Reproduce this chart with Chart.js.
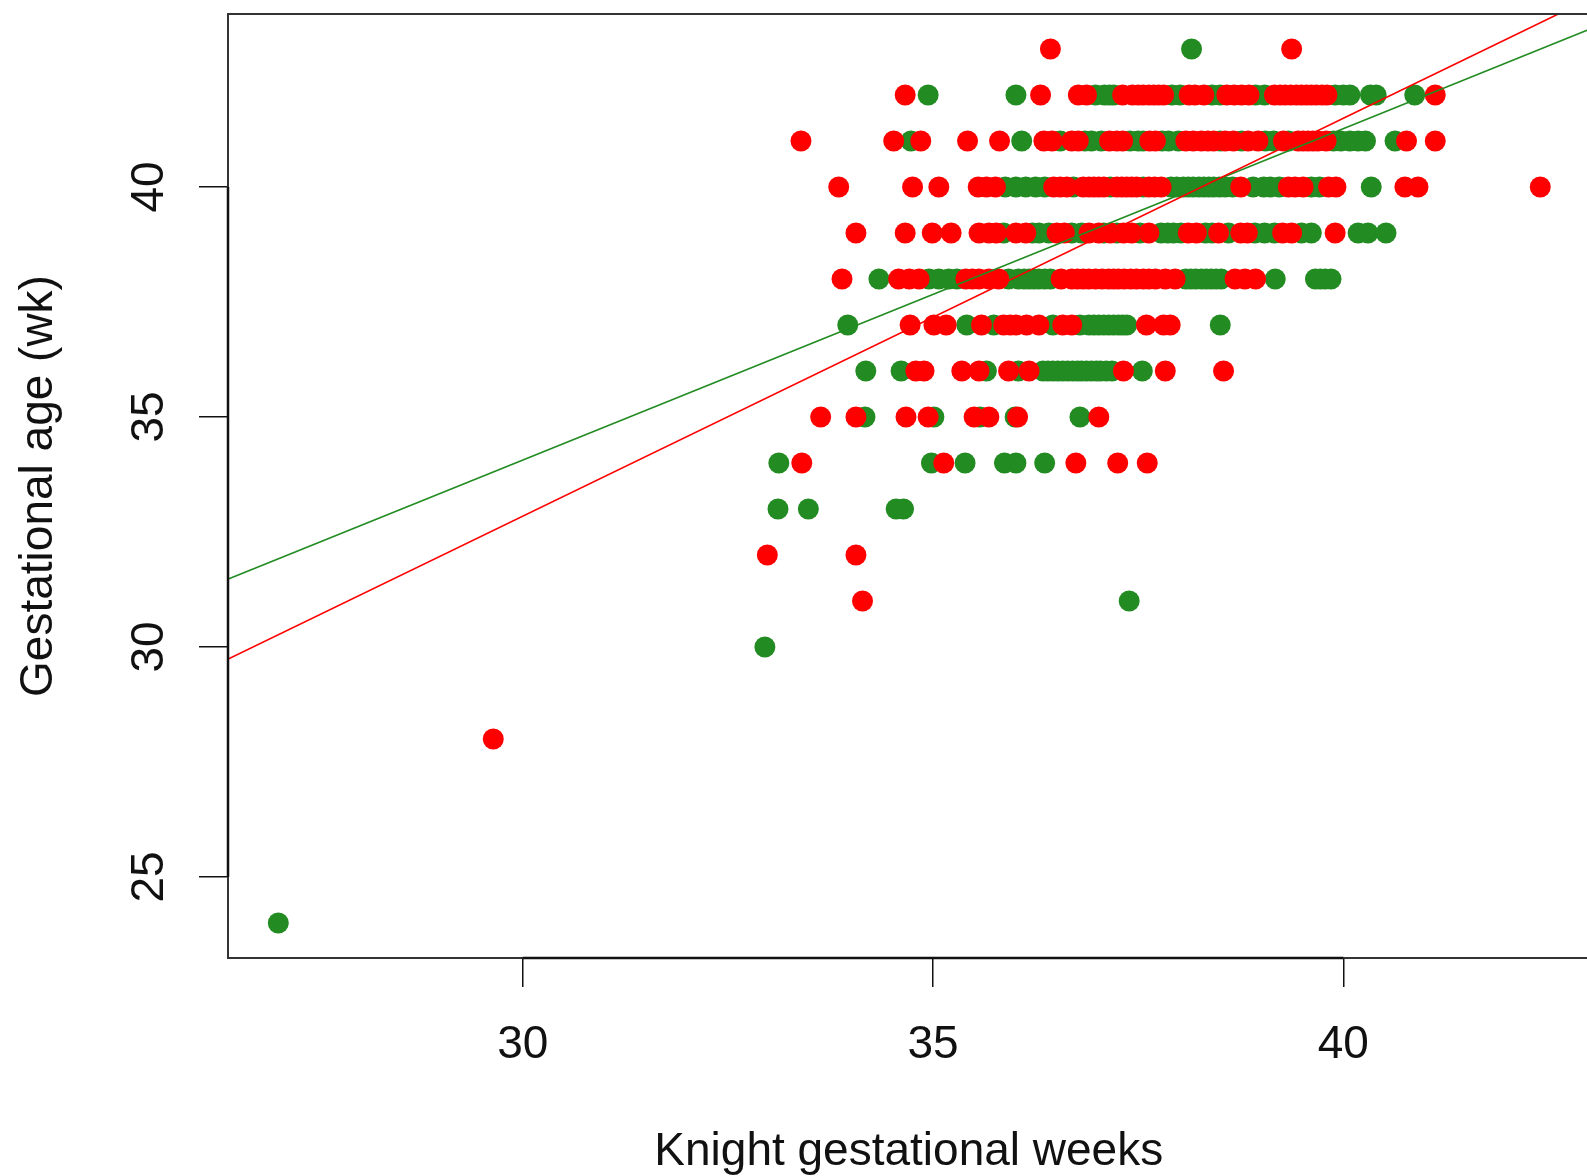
<!DOCTYPE html>
<html>
<head>
<meta charset="utf-8">
<script src="https://cdn.jsdelivr.net/npm/chart.js@4.4.1/dist/chart.umd.min.js"></script>
<style>
  html, body { margin: 0; padding: 0; background: #fff; overflow: hidden; }
  #wrap { position: absolute; left: 0; top: 0; width: 1600px; height: 1176px; }
</style>
</head>
<body>
<div id="wrap"><canvas id="c" width="1600" height="1176"></canvas></div>
<script>
// ---- data ----
const xTicks = [30, 35, 40];
const yTicks = [25, 30, 35, 40];
const xTitle = "Knight gestational weeks";
const yTitle = "Gestational age (wk)";

// Gestational age rows (weeks) and Knight weeks of points in each row
const rowWeeks = [43, 42, 41, 40, 39, 38, 37, 36, 35, 34, 33, 32, 31, 30, 28, 24];

const redRows = [
  [36.43, 39.37],
  [34.66, 36.31, 36.77, 36.87, 37.31, 37.43, 37.50, 37.56, 37.63, 37.69, 37.75, 37.81, 38.12, 38.19, 38.30, 38.58, 38.67, 38.76, 38.85, 39.16, 39.23, 39.29, 39.36, 39.43, 39.49, 39.55, 39.61, 39.67, 39.74, 39.80, 41.12],
  [33.39, 34.52, 34.85, 35.42, 35.81, 36.35, 36.45, 36.69, 36.77, 37.15, 37.24, 37.31, 37.64, 37.71, 38.08, 38.17, 38.27, 38.35, 38.42, 38.56, 38.66, 38.84, 38.96, 39.27, 39.45, 39.51, 39.57, 39.63, 39.69, 39.79, 40.77, 41.12],
  [33.85, 34.75, 35.07, 35.55, 35.65, 35.76, 36.47, 36.55, 36.63, 36.83, 36.90, 36.96, 37.02, 37.08, 37.24, 37.30, 37.36, 37.42, 37.48, 37.63, 37.70, 37.78, 38.75, 39.33, 39.41, 39.51, 39.82, 39.91, 40.75, 40.91, 42.40],
  [34.06, 34.66, 34.99, 35.22, 35.56, 35.68, 35.77, 36.01, 36.13, 36.51, 36.60, 36.90, 37.02, 37.16, 37.32, 37.42, 37.63, 38.11, 38.21, 38.48, 38.75, 38.83, 39.26, 39.37, 39.90],
  [33.89, 34.58, 34.71, 34.83, 35.40, 35.48, 35.56, 35.68, 35.80, 36.56, 36.69, 36.76, 36.83, 36.90, 36.98, 37.06, 37.14, 37.20, 37.26, 37.33, 37.41, 37.48, 37.56, 37.63, 37.71, 37.83, 37.95, 38.68, 38.80, 38.93],
  [34.72, 35.01, 35.16, 35.59, 35.86, 35.94, 36.01, 36.14, 36.29, 36.58, 36.69, 37.60, 37.81, 37.89],
  [34.79, 34.89, 35.35, 35.56, 35.92, 36.17, 37.32, 37.83, 38.54],
  [33.63, 34.06, 34.67, 34.94, 35.50, 35.68, 36.03, 37.02],
  [33.40, 35.13, 36.74, 37.25, 37.61],
  [],
  [32.98, 34.06],
  [34.14],
  [],
  [29.64],
  []
];

const greenRows = [
  [38.15],
  [34.94, 36.01, 36.98, 37.09, 37.15, 37.20, 37.91, 38.01, 38.40, 38.50, 38.93, 39.04, 39.90, 40.00, 40.08, 40.33, 40.40, 40.87],
  [34.73, 36.08, 36.55, 36.85, 36.93, 37.05, 37.40, 37.50, 37.56, 37.79, 37.87, 37.99, 38.50, 38.76, 39.05, 39.15, 39.33, 39.88, 39.97, 40.08, 40.18, 40.27, 40.63],
  [35.88, 36.01, 36.13, 36.25, 36.36, 36.71, 37.16, 37.56, 37.90, 37.97, 38.05, 38.11, 38.17, 38.24, 38.30, 38.36, 38.42, 38.49, 38.56, 38.65, 38.90, 39.03, 39.11, 39.22, 39.61, 39.71, 40.34],
  [35.86, 36.21, 36.29, 36.41, 36.69, 36.81, 37.08, 37.24, 37.52, 37.78, 37.86, 37.93, 38.02, 38.32, 38.40, 38.60, 38.92, 39.04, 39.16, 39.49, 39.61, 40.18, 40.30, 40.52],
  [34.34, 34.95, 35.07, 35.19, 35.29, 35.92, 36.04, 36.11, 36.17, 36.23, 36.29, 36.36, 36.43, 38.08, 38.14, 38.20, 38.27, 38.33, 38.39, 38.45, 38.51, 39.17, 39.66, 39.72, 39.78, 39.85],
  [33.96, 35.41, 35.74, 36.46, 36.79, 36.90, 36.96, 37.02, 37.08, 37.14, 37.20, 37.26, 37.31, 37.36, 38.50],
  [34.18, 34.61, 35.65, 36.04, 36.34, 36.40, 36.46, 36.52, 36.58, 36.64, 36.70, 36.76, 36.81, 36.87, 36.93, 36.99, 37.04, 37.11, 37.18, 37.55],
  [34.17, 35.01, 35.57, 36.00, 36.79],
  [33.12, 34.98, 35.39, 35.87, 36.01, 36.36],
  [33.11, 33.48, 34.55, 34.64],
  [],
  [37.39],
  [32.95],
  [],
  [27.02]
];

// fitted lines (end points)
const redLineX = [26.40, 42.62];
const redLineY = [29.73, 43.76];
const greenLineX = [26.40, 43.00];
const greenLineY = [31.47, 43.43];

const xRange = [26.407, 43.00];
const yRange = [23.24, 43.76];

const RED = '#FF0000';
const GREEN = '#228B22';

// ---- build datasets ----
function rowsToPoints(rows) {
  const pts = [];
  rows.forEach((xs, i) => xs.forEach(v => pts.push({ x: v, y: rowWeeks[i] })));
  return pts;
}
function linePts(xs, ys) { return xs.map((v, i) => ({ x: v, y: ys[i] })); }

const FONT = '"Liberation Sans", Arial, sans-serif';

const rFrame = {
  id: 'rFrame',
  afterDraw(chart) {
    const { ctx, chartArea: a, scales } = chart;
    const xs = scales.x, ys = scales.y;
    ctx.save();
    // box
    ctx.strokeStyle = '#333';
    ctx.lineWidth = 2;
    ctx.strokeRect(a.left, a.top, a.right - a.left, a.bottom - a.top);
    // axis lines (first to last tick)
    ctx.strokeStyle = '#111';
    ctx.lineWidth = 2.5;
    ctx.beginPath();
    ctx.moveTo(xs.getPixelForValue(xTicks[0]), a.bottom);
    ctx.lineTo(xs.getPixelForValue(xTicks[xTicks.length - 1]), a.bottom);
    ctx.moveTo(a.left, ys.getPixelForValue(yTicks[0]));
    ctx.lineTo(a.left, ys.getPixelForValue(yTicks[yTicks.length - 1]));
    ctx.stroke();
    // labels
    ctx.fillStyle = '#111';
    ctx.font = '46px ' + FONT;
    ctx.textAlign = 'center';
    ctx.textBaseline = 'alphabetic';
    xTicks.forEach(v => ctx.fillText(String(v), xs.getPixelForValue(v), 1058));
    yTicks.forEach(v => {
      ctx.save();
      ctx.translate(163, ys.getPixelForValue(v));
      ctx.rotate(-Math.PI / 2);
      ctx.fillText(String(v), 0, 0);
      ctx.restore();
    });
    ctx.fillText(xTitle, (a.left + a.right) / 2, 1165);
    ctx.save();
    ctx.translate(52, (a.top + a.bottom) / 2);
    ctx.rotate(-Math.PI / 2);
    ctx.fillText(yTitle, 0, 0);
    ctx.restore();
    ctx.restore();
  }
};

const tickGrid = {
  display: true,
  drawOnChartArea: false,
  drawTicks: true,
  tickLength: 29,
  color: '#111',
  tickColor: '#111',
  lineWidth: 1.5,
  tickWidth: 1.5
};

new Chart(document.getElementById('c'), {
  type: 'scatter',
  data: {
    datasets: [
      { type: 'line', data: linePts(redLineX, redLineY), borderColor: RED, borderWidth: 1.6, pointRadius: 0, fill: false, showLine: true },
      { type: 'line', data: linePts(greenLineX, greenLineY), borderColor: GREEN, borderWidth: 1.6, pointRadius: 0, fill: false, showLine: true },
      { data: rowsToPoints(redRows), backgroundColor: RED, borderWidth: 0, pointRadius: 10.5, pointHoverRadius: 10.5 },
      { data: rowsToPoints(greenRows), backgroundColor: GREEN, borderWidth: 0, pointRadius: 10.5, pointHoverRadius: 10.5 }
    ]
  },
  options: {
    responsive: false,
    animation: false,
    devicePixelRatio: 1,
    events: [],
    layout: { padding: { left: 0, top: 14, right: 8, bottom: 0 } },
    plugins: { legend: { display: false }, tooltip: { enabled: false } },
    scales: {
      x: {
        type: 'linear', position: 'bottom', min: xRange[0], max: xRange[1],
        grid: tickGrid, border: { display: false },
        ticks: { display: false },
        afterBuildTicks: s => { s.ticks = xTicks.map(v => ({ value: v })); },
        afterFit: s => { s.height = 218; }
      },
      y: {
        type: 'linear', position: 'left', min: yRange[0], max: yRange[1],
        grid: tickGrid, border: { display: false },
        ticks: { display: false },
        afterBuildTicks: s => { s.ticks = yTicks.map(v => ({ value: v })); },
        afterFit: s => { s.width = 228; }
      }
    }
  },
  plugins: [rFrame]
});
</script>
</body>
</html>
